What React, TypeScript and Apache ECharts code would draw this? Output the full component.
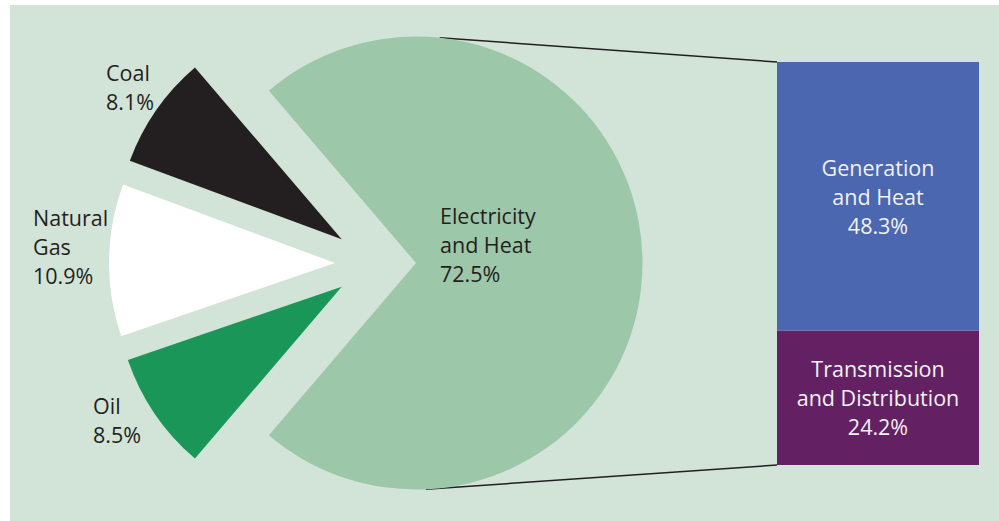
import React, { useEffect, useRef } from "react";
import * as echarts from "echarts";

// ---- data ----
const sourceNames = ["Coal", "Natural\nGas", "Oil"];
const sourceShares = [8.1, 10.9, 8.5];
const mainName = "Electricity\nand Heat";
const mainShare = 72.5;
const breakdownNames = ["Generation\nand Heat", "Transmission\nand Distribution"];
const breakdownShares = [48.3, 24.2];

// ---- styles / layout ----
const FONT = "'Open Sans', 'Noto Sans', sans-serif";
const BG = "#d2e4d7";
const MAIN_COLOR = "#9dc7a9";
const SOURCE_COLORS = ["#231f20", "#ffffff", "#1b9659"];
const BAR_COLORS = ["#4a67b0", "#632163"];
const TEXT_DARK = "#231f20";
const TEXT_LIGHT = "#f2f2f2";

const MAIN_CENTER = [416, 263];
const RADIUS = 226.5;
const SOURCE_CENTERS = [
  [341.7, 239.3],
  [335, 263],
  [341.7, 286.7],
];
const SOURCE_LABEL_POS = [
  [106, 87],
  [33, 246],
  [93, 420],
];
const MAIN_LABEL_POS = [440, 244];
const GRID = { left: 777, top: 62, width: 202, height: 403 };

const labelBase = {
  fontFamily: FONT,
  fontSize: 21.5,
  lineHeight: 29,
};

export default function App() {
  const ref = useRef<HTMLDivElement>(null);
  useEffect(() => {
    if (!ref.current) return;
    const chart = echarts.init(ref.current, undefined, { renderer: "svg" });

    const total = mainShare + sourceShares.reduce((a, b) => a + b, 0);
    const degPer = 360 / total;
    const gapDeg = (total - mainShare) * degPer;
    const mainStart = 180 - gapDeg / 2;

    const series: any[] = [];

    // main sector
    series.push({
      type: "pie",
      center: MAIN_CENTER,
      radius: RADIUS,
      startAngle: mainStart,
      clockwise: true,
      avoidLabelOverlap: false,
      silent: true,
      labelLine: { show: false },
      labelLayout: (p: any) =>
        p.dataIndex === 0
          ? { x: MAIN_LABEL_POS[0], y: MAIN_LABEL_POS[1], align: "left", verticalAlign: "middle" }
          : {},
      data: [
        {
          name: mainName,
          value: mainShare,
          itemStyle: { color: MAIN_COLOR },
          label: {
            show: true,
            position: "inside",
            formatter: (p: any) => `${p.name}\n${p.value}%`,
            color: TEXT_DARK,
            ...labelBase,
          },
        },
        {
          name: "rest",
          value: total - mainShare,
          itemStyle: { color: "rgba(0,0,0,0)" },
          label: { show: false },
        },
      ],
    });

    // exploded source slices
    let cum = mainStart;
    sourceShares.forEach((v, i) => {
      cum += v * degPer;
      const start = cum;
      series.push({
        type: "pie",
        center: SOURCE_CENTERS[i],
        radius: RADIUS - 0.5,
        startAngle: start,
        clockwise: true,
        avoidLabelOverlap: false,
        silent: true,
        labelLine: { show: false },
        labelLayout: (p: any) =>
          p.dataIndex === 0
            ? {
                x: SOURCE_LABEL_POS[i][0],
                y: SOURCE_LABEL_POS[i][1],
                align: "left",
                verticalAlign: "middle",
              }
            : {},
        data: [
          {
            name: sourceNames[i],
            value: v,
            itemStyle: { color: SOURCE_COLORS[i] },
            label: {
              show: true,
              position: "inside",
              formatter: (p: any) => `${p.name}\n${p.value}%`,
              color: TEXT_DARK,
              ...labelBase,
            },
          },
          {
            name: "rest",
            value: total - v,
            itemStyle: { color: "rgba(0,0,0,0)" },
            label: { show: false },
          },
        ],
      });
    });

    // stacked bar: bottom = transmission, top = generation
    const order = [1, 0];
    order.forEach((idx) => {
      series.push({
        type: "bar",
        stack: "total",
        barWidth: "100%",
        silent: true,
        name: breakdownNames[idx],
        itemStyle: { color: BAR_COLORS[idx] },
        label: {
          show: true,
          position: "inside",
          formatter: (p: any) => `${breakdownNames[idx]}\n${p.value}%`,
          color: TEXT_LIGHT,
          ...labelBase,
        },
        data: [breakdownShares[idx]],
      });
    });

    // connector lines derived from pie geometry and bar grid corners
    const topAng = (84 * Math.PI) / 180;
    const botAng = (-87.5 * Math.PI) / 180;
    const topStart = [MAIN_CENTER[0] + RADIUS * Math.cos(topAng), MAIN_CENTER[1] - RADIUS * Math.sin(topAng)];
    const botStart = [MAIN_CENTER[0] + RADIUS * Math.cos(botAng), MAIN_CENTER[1] - RADIUS * Math.sin(botAng)];

    chart.setOption({
      animation: false,
      backgroundColor: "#ffffff",
      grid: { ...GRID },
      xAxis: { type: "category", data: ["Electricity and Heat"], show: false },
      yAxis: { type: "value", min: 0, max: mainShare, show: false },
      graphic: [
        {
          type: "rect",
          z: -10,
          shape: { x: 10, y: 5, width: 989, height: 516 },
          style: { fill: BG },
          silent: true,
        },
        {
          type: "line",
          z: 1,
          shape: { x1: topStart[0], y1: topStart[1], x2: GRID.left, y2: GRID.top },
          style: { stroke: TEXT_DARK, lineWidth: 1.5 },
          silent: true,
        },
        {
          type: "line",
          z: 1,
          shape: { x1: botStart[0], y1: botStart[1], x2: GRID.left, y2: GRID.top + GRID.height },
          style: { stroke: TEXT_DARK, lineWidth: 1.5 },
          silent: true,
        },
      ],
      series,
    });
    return () => chart.dispose();
  }, []);

  return (
    <div
      ref={ref}
      style={{ position: "fixed", left: 0, top: 0, width: 999, height: 521 }}
    />
  );
}
